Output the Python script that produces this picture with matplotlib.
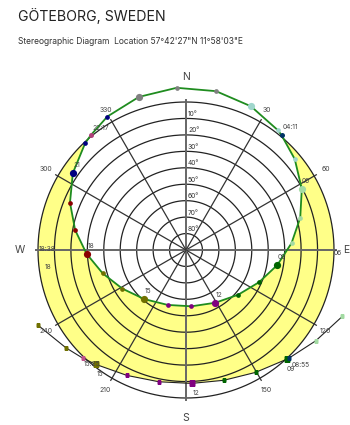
import numpy as np
import matplotlib
matplotlib.use("Agg")
import matplotlib.pyplot as plt

plt.rcParams['font.family'] = ['Inter', 'DejaVu Sans']

TITLE = "GÖTEBORG, SWEDEN"
SUBTITLE = "Stereographic Diagram  Location 57°42'27\"N 11°58'03\"E"

# Summer solstice sun positions by clock hour (CEST): azimuth and altitude in degrees
summer_hours = list(range(24))
summer_az = [342.9, 356.7, 10.7, 24.3, 37.5, 50.1, 62.2, 74.2, 86.3, 99.3, 113.7, 130.6,
             150.9, 174.5, 198.4, 220.4, 238.8, 254.3, 267.8, 280.2, 292.2, 304.2, 316.6, 329.5]
summer_alt = [-7.4, -8.8, -8.3, -5.9, -1.8, 3.8, 10.4, 17.8, 25.7, 33.7, 41.4, 48.2,
              53.3, 55.6, 54.8, 50.8, 44.7, 37.4, 29.5, 21.5, 13.8, 6.8, 0.7, -4.2]
summer_rise = ("04:11", 39.8, -0.8)
summer_set = ("22:17", 320.3, -0.7)

# Winter solstice sun positions by clock hour (CET)
winter_hours = list(range(7, 18))
winter_az = [113.0, 125.0, 137.4, 150.4, 163.8, 177.6, 191.6, 205.2, 218.3, 230.9, 243.0]
winter_alt = [-13.3, -6.3, -0.3, 4.4, 7.5, 8.8, 8.2, 5.7, 1.4, -4.2, -10.9]
winter_rise = ("08:55", 136.4, -0.8)
winter_set = ("15:25", 223.6, -0.9)

# marker colour for each block of three hours (00-02, 03-05, ... 21-23)
hour_colors = ['#808080', '#9fd6cc', '#a3dba3', '#006400',
               '#800080', '#707000', '#8b0000', '#000080']
summer_labelled = [6, 9, 12, 15, 18, 21]
winter_labelled = [9, 12, 15]

alt_rings = [0, 10, 20, 30, 40, 50, 60, 70, 80]
az_spokes = list(range(0, 360, 30))
compass = [("N", 0, 105), ("E", 90, 97.5), ("S", 180, 102), ("W", 270, 101)]

YELLOW = '#ffff88'
GREEN = '#1f8c1f'

W, H = 350, 425
fig = plt.figure(figsize=(W / 100, H / 100), dpi=100)
fig.patch.set_facecolor('white')

# polar frame: centre at (186, 250) px, horizon radius 148 px
cx, cy, rh = 186.0, 250.0, 148.0
rmax = 110.0
rpx = rmax * rh / 90.0
ax = fig.add_axes([(cx - rpx) / W, (H - cy - rpx) / H, 2 * rpx / W, 2 * rpx / H],
                  projection='polar')
ax.set_theta_zero_location('N')
ax.set_theta_direction(-1)
ax.set_rlim(0, rmax)
ax.axis('off')


def rad(a):
    return np.deg2rad(np.asarray(a, dtype=float))


def zen(alt):
    return 90.0 - np.asarray(alt, dtype=float)


# region swept by the sun above the horizon between the solstices
s_up = [(a, e) for h, a, e in zip(summer_hours, summer_az, summer_alt) if e > 0]
w_up = [(a, e) for h, a, e in zip(winter_hours, winter_az, winter_alt)
        if winter_rise[1] < a < winter_set[1]]
poly_az, poly_alt = [], []
poly_az += [summer_rise[1]] + [a for a, e in s_up] + [summer_set[1]]
poly_alt += [summer_rise[2]] + [e for a, e in s_up] + [summer_set[2]]
arc = np.linspace(summer_set[1], winter_set[1], 60)
poly_az += list(arc); poly_alt += [0.0] * len(arc)
poly_az += [winter_set[1]] + [a for a, e in reversed(w_up)] + [winter_rise[1]]
poly_alt += [winter_set[2]] + [e for a, e in reversed(w_up)] + [winter_rise[2]]
arc = np.linspace(winter_rise[1], summer_rise[1], 60)
poly_az += list(arc); poly_alt += [0.0] * len(arc)
ax.fill(rad(poly_az), zen(poly_alt), color=YELLOW, lw=0, zorder=1)

# altitude rings
ring_t = np.linspace(0, 2 * np.pi, 361)
for a in alt_rings:
    ax.plot(ring_t, np.full_like(ring_t, zen(a)), color='#222222', lw=0.9, zorder=2)
    if a > 0:
        ax.annotate(f"{a}°", xy=(0, zen(a)), xytext=(2, 1.5), textcoords='offset pixels',
                    ha='left', va='bottom', fontsize=4.8, color='#333333', zorder=6)

# azimuth spokes
for az in az_spokes:
    main = az % 90 == 0
    ax.plot(rad([az, az]), [0, 91.5], color='#666666' if main else '#333333',
            lw=1.4 if main else 0.9, zorder=2)
    if not main:
        ax.text(rad(az), 98, str(az), ha='center', va='center', fontsize=5,
                color='#444444', zorder=6)

for letter, az, r in compass:
    ax.text(rad(az), r, letter, ha='center', va='center', fontsize=7.5,
            color='#444444', zorder=6, clip_on=False)

# winter solstice path
w_line = [(a, e) for a, e in zip(winter_az, winter_alt)]
w_line += [(winter_rise[1], winter_rise[2]), (winter_set[1], winter_set[2])]
w_line.sort()
ax.plot(rad([a for a, e in w_line]), zen([e for a, e in w_line]),
        color='#222222', lw=0.8, zorder=3)

# summer solstice path (closed daily loop)
s_line = [(a, e) for a, e in zip(summer_az, summer_alt)]
s_line += [(summer_rise[1], summer_rise[2]), (summer_set[1], summer_set[2])]
s_line.sort()
s_line.append(s_line[0])
s_az = np.unwrap(rad([a for a, e in s_line]))
s_az[-1] = s_az[0] + 2 * np.pi
ax.plot(s_az, zen([e for a, e in s_line]), color=GREEN, lw=1.3, zorder=3)

# hourly markers
for h, a, e in zip(summer_hours, summer_az, summer_alt):
    big = h % 3 == 0
    ax.plot(rad(a), zen(e), 'o', ms=5.2 if big else 3.4, color=hour_colors[h // 3],
            mec='none', zorder=4)
for h, a, e in zip(winter_hours, winter_az, winter_alt):
    big = h % 3 == 0
    ax.plot(rad(a), zen(e), 's', ms=5.0 if big else 3.4, color=hour_colors[h // 3],
            mec='none', zorder=4)
ax.plot(rad(summer_rise[1]), zen(summer_rise[2]), 'o', ms=3.6, color='#003366', mec='none', zorder=5)
ax.plot(rad(summer_set[1]), zen(summer_set[2]), 'o', ms=3.6, color='#b0407a', mec='none', zorder=5)
ax.plot(rad(winter_rise[1]), zen(winter_rise[2]), 's', ms=3.4, color='#003366', mec='none', zorder=5)
ax.plot(rad(winter_set[1]), zen(winter_set[2]), 's', ms=3.4, color='#c0508a', mec='none', zorder=5)

# labels
lab_kw = dict(textcoords='offset pixels', ha='center', va='center', fontsize=4.8,
              color='#444444', zorder=6)
for h, a, e in zip(summer_hours, summer_az, summer_alt):
    if h in summer_labelled:
        ax.annotate(f"{h:02d}", xy=(rad(a), zen(e)), xytext=(4, 8), **lab_kw)
for h, a, e in zip(winter_hours, winter_az, winter_alt):
    if h in winter_labelled:
        ax.annotate(f"{h:02d}", xy=(rad(a), zen(e)), xytext=(4, -10), **lab_kw)
ax.annotate(summer_rise[0], xy=(rad(summer_rise[1]), zen(summer_rise[2])), xytext=(9, 8), **lab_kw)
ax.annotate(summer_set[0], xy=(rad(summer_set[1]), zen(summer_set[2])), xytext=(10, 7), **lab_kw)
ax.annotate(winter_rise[0], xy=(rad(winter_rise[1]), zen(winter_rise[2])), xytext=(12, -7), **lab_kw)
ax.annotate(winter_set[0], xy=(rad(winter_set[1]), zen(winter_set[2])), xytext=(9, -6), **lab_kw)

# equinox time labels on the east-west line
for txt, px, py in [("06", 338, 253), ("18:38", 47, 249), ("18", 48, 267)]:
    fig.text(px / W, 1 - py / H, txt, ha='center', va='center', fontsize=4.8,
             color='#444444', zorder=6)

fig.text(18 / W, 1 - 16.5 / H, TITLE, ha='left', va='center', fontsize=10.2, color='#222222')
fig.text(18 / W, 1 - 41 / H, SUBTITLE, ha='left', va='center', fontsize=6.1, color='#333333')

fig.savefig("out.png", dpi=100)
